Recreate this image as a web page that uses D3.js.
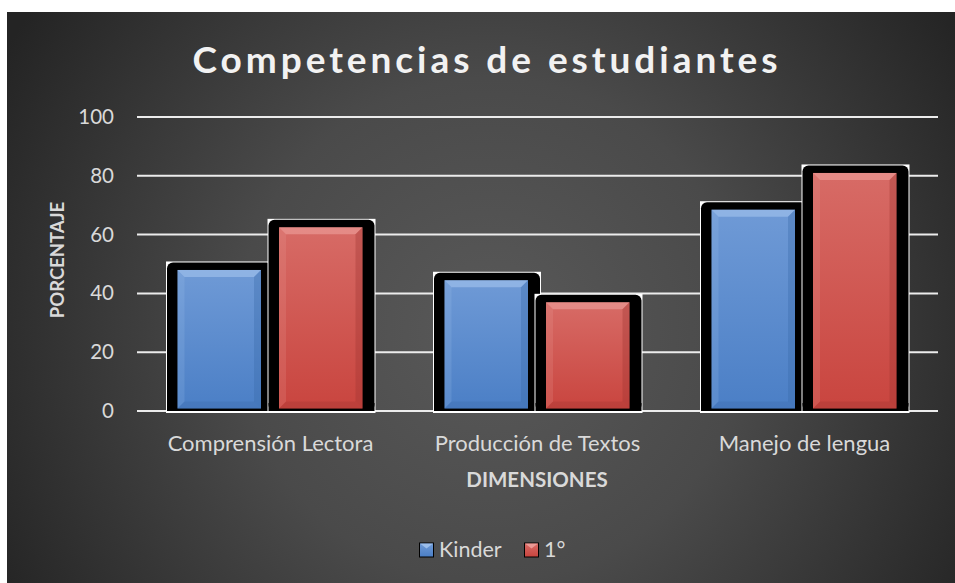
<!DOCTYPE html>
<html>
<head>
<meta charset="utf-8">
<script src="https://cdn.jsdelivr.net/npm/d3@7"></script>
<style>
  html, body { margin: 0; padding: 0; background: #ffffff; }
  svg { display: block; }
  text { font-family: Lato, Calibri, "Open Sans", sans-serif; }
</style>
</head>
<body>
<div id="chart"></div>
<script>
const title = "Competencias de estudiantes";
const categories = ["Comprensión Lectora", "Producción de Textos", "Manejo de lengua"];
const seriesNames = ["Kinder", "1°"];
const kinderValues = [49.5, 46, 70];
const primeroValues = [64, 38.5, 82.5];
const yTicks = [0, 20, 40, 60, 80, 100];
const yLabel = "PORCENTAJE";
const xLabel = "DIMENSIONES";

const W = 955, H = 583;
const svg = d3.select("#chart").append("svg").attr("width", W).attr("height", H);
const defs = svg.append("defs");

// background gradient
const bg = defs.append("radialGradient").attr("id", "bg")
  .attr("gradientUnits", "userSpaceOnUse")
  .attr("cx", 490).attr("cy", 330).attr("r", 560);
bg.append("stop").attr("offset", "0%").attr("stop-color", "#595959");
bg.append("stop").attr("offset", "45%").attr("stop-color", "#4a4a4a");
bg.append("stop").attr("offset", "100%").attr("stop-color", "#242424");

const fills = {
  "Kinder": { top: "#6f9ad6", bot: "#4b7fc6", light: "#a9c8f0", dark: "#3a6aa8" },
  "1°":     { top: "#d76b66", bot: "#c9453f", light: "#f0a6a2", dark: "#9e3531" }
};
seriesNames.forEach((s, i) => {
  const g = defs.append("linearGradient").attr("id", "fill" + i)
    .attr("x1", 0).attr("y1", 0).attr("x2", 0).attr("y2", 1);
  g.append("stop").attr("offset", "0%").attr("stop-color", fills[s].top);
  g.append("stop").attr("offset", "100%").attr("stop-color", fills[s].bot);
});

svg.append("rect").attr("x", 7).attr("y", 12).attr("width", W - 7).attr("height", H - 12)
  .attr("fill", "url(#bg)");

// scales
const x0 = d3.scaleBand().domain(categories).range([137, 938]).padding(0);
const x1 = d3.scaleBand().domain(seriesNames).range([32, x0.step() - 32]).padding(0);
const y = d3.scaleLinear().domain([0, 100]).range([411, 117]);

// title
const t = svg.append("text").attr("x", 485).attr("y", 73)
  .attr("text-anchor", "middle").attr("fill", "#f2f2f2")
  .attr("font-size", 37).attr("font-weight", "bold").text(title);
{
  const len = t.node().getComputedTextLength();
  const ls = (585 - len) / (title.length - 1);
  t.attr("letter-spacing", ls).attr("x", 485 + ls / 2);
}

// gridlines
svg.append("g").selectAll("line").data(yTicks).join("line")
  .attr("x1", 137).attr("x2", 938)
  .attr("y1", d => y(d)).attr("y2", d => y(d))
  .attr("stroke", "#ececec").attr("stroke-width", 2);

// y tick labels
svg.append("g").selectAll("text").data(yTicks).join("text")
  .attr("x", 114).attr("y", d => y(d) + 7)
  .attr("text-anchor", "end").attr("fill", "#d9d9d9").attr("font-size", 20.5)
  .text(d => d);

// y axis title
svg.append("text").attr("transform", "translate(63.5,260) rotate(-90)")
  .attr("text-anchor", "middle").attr("fill", "#d9d9d9")
  .attr("font-size", 18.5).attr("font-weight", "bold").text(yLabel);

// bars
const data = [];
categories.forEach((c, ci) => {
  data.push({ cat: c, s: seriesNames[0], si: 0, v: kinderValues[ci] });
  data.push({ cat: c, s: seriesNames[1], si: 1, v: primeroValues[ci] });
});
const base = y(0);
const bars = svg.append("g").selectAll("g").data(data).join("g");
bars.each(function (d) {
  const g = d3.select(this);
  const sx = x0(d.cat) + x1(d.s), bw = x1.bandwidth();
  const yv = y(d.v);
  // white outline rect
  g.append("rect").attr("x", sx - 3).attr("y", yv - 4)
    .attr("width", bw + 6.5).attr("height", base + 2 - (yv - 4)).attr("fill", "#ffffff");
  // black rounded border
  g.append("rect").attr("x", sx - 2).attr("y", yv - 3)
    .attr("width", bw + 4.5).attr("height", base - (yv - 3))
    .attr("rx", 6).attr("fill", "#000000");
  g.append("rect").attr("x", sx - 2).attr("y", base - 8)
    .attr("width", bw + 4.5).attr("height", 8).attr("fill", "#000000");
  // inner colored
  const ix0 = sx + 8.5, ix1 = sx + bw - 9.5, iy0 = yv + 4.5, iy1 = base - 2.5;
  g.append("rect").attr("x", ix0).attr("y", iy0).attr("width", ix1 - ix0).attr("height", iy1 - iy0)
    .attr("fill", "url(#fill" + d.si + ")");
  const b = 7, f = fills[d.s];
  g.append("polygon").attr("points", [[ix0, iy0], [ix1, iy0], [ix1 - b, iy0 + b], [ix0 + b, iy0 + b]].join(" "))
    .attr("fill", f.light).attr("opacity", 0.55);
  g.append("polygon").attr("points", [[ix0, iy0], [ix0 + b, iy0 + b], [ix0 + b, iy1 - b], [ix0, iy1]].join(" "))
    .attr("fill", f.light).attr("opacity", 0.18);
  g.append("polygon").attr("points", [[ix1, iy0], [ix1, iy1], [ix1 - b, iy1 - b], [ix1 - b, iy0 + b]].join(" "))
    .attr("fill", f.dark).attr("opacity", 0.35);
  g.append("polygon").attr("points", [[ix0, iy1], [ix1, iy1], [ix1 - b, iy1 - b], [ix0 + b, iy1 - b]].join(" "))
    .attr("fill", f.dark).attr("opacity", 0.3);
});

// category labels
svg.append("g").selectAll("text").data(categories).join("text")
  .attr("x", d => x0(d) + x0.bandwidth() / 2).attr("y", 451)
  .attr("text-anchor", "middle").attr("fill", "#d9d9d9").attr("font-size", 22)
  .text(d => d);

svg.append("text").attr("x", 537).attr("y", 487)
  .attr("text-anchor", "middle").attr("fill", "#d9d9d9")
  .attr("font-size", 20.5).attr("font-weight", "bold").text(xLabel);

// legend
const legendX = [419, 524];
const lg = svg.append("g").selectAll("g").data(seriesNames).join("g")
  .attr("transform", (d, i) => `translate(${legendX[i]},542.5)`);
lg.append("rect").attr("width", 15).attr("height", 15).attr("fill", "#000");
lg.append("rect").attr("x", 1).attr("y", 1).attr("width", 13).attr("height", 13)
  .attr("fill", (d, i) => `url(#fill${i})`);
lg.append("polygon").attr("points", "1,1 14,1 7.5,6")
  .attr("fill", d => fills[d].light).attr("opacity", 0.8);
lg.append("text").attr("x", 20).attr("y", 14.5)
  .attr("fill", "#d9d9d9").attr("font-size", 21.5).text(d => d);
</script>
</body>
</html>
